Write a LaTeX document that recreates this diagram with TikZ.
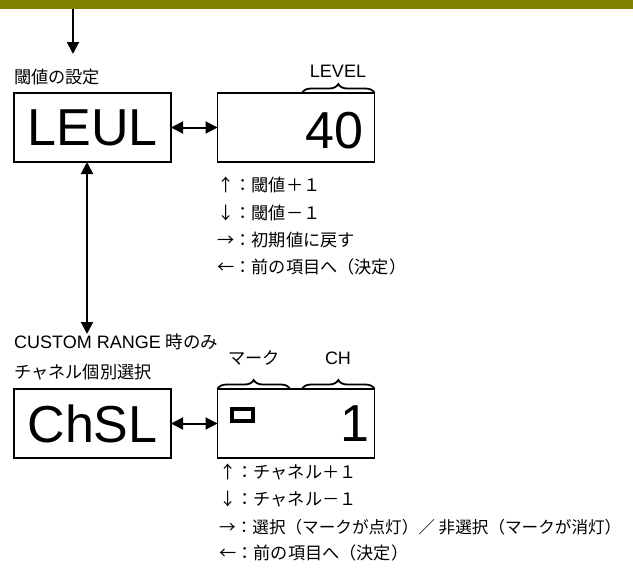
\documentclass[tikz,border=0pt]{standalone}
\usepackage{fontspec}
\setmainfont{Liberation Sans}
\newfontfamily\jp{Noto Sans CJK JP}
\usetikzlibrary{arrows.meta,decorations.pathreplacing}
\definecolor{barolive}{RGB}{128,128,0}
\tikzset{
  dispbox/.style={draw, line width=1.8pt, minimum width=157pt, minimum height=69pt, inner sep=0pt, outer sep=0pt},
  segtxt/.style={font=\fontsize{52}{52}\selectfont, inner sep=0pt},
  jptxt/.style={font=\jp\fontsize{17.2}{17.2}\selectfont, inner sep=0pt, anchor=west},
  lattxt/.style={font=\fontsize{18}{18}\selectfont, inner sep=0pt, anchor=base},
  conn/.style={line width=2pt, -{Triangle[length=12pt,width=12pt]}},
  dconn/.style={line width=2pt, {Triangle[length=12pt,width=12pt]}-{Triangle[length=12pt,width=12pt]}},
  brc/.style={decorate, decoration={brace, amplitude=9pt}, line width=1.8pt},
}
\begin{document}
\begin{tikzpicture}[x=1pt,y=-1pt]
\useasboundingbox (0,0) rectangle (633,581);
% top bar
\fill[barolive] (0,0) rectangle (633,8.5);
\coordinate (topstart) at (73,8.5);
\coordinate (topend) at (73,54);
\draw[conn] (topstart) -- (topend);

% threshold setting
\node[jptxt] (t1) at (14,77) {閾値の設定};
\node[dispbox, segtxt] (leul) at (92.5,127.5) {LEUL};
\node[dispbox] (lvl) at (296,127.5) {};
\node[segtxt, anchor=base east] (lvlval) at (364,148) {40};
\draw[brc] (302,93) -- (lvl.north east);
\node[lattxt] (lvllbl) at (338,77) {LEVEL};
\draw[dconn] (leul.east) -- (lvl.west);

\node[jptxt] (a1) at (217,185) {↑：閾値＋１};
\node[jptxt] (a2) at (217,213) {↓：閾値－１};
\node[jptxt] (a3) at (217,240) {→：初期値に戻す};
\node[jptxt] (a4) at (217,267) {←：前の項目へ（決定）};

% vertical connector
\coordinate (vend) at (87,334);
\draw[dconn] (leul.south -| vend) -- (vend);

% channel selection
\node[lattxt, anchor=base west] (c1) at (14,348) {CUSTOM RANGE {\jp\fontsize{17.5}{17.5}\selectfont 時のみ}};
\node[jptxt] (c2) at (14,372) {チャネル個別選択};
\node[dispbox, segtxt] (chsl) at (92.5,423.5) {ChSL};
\node[dispbox] (ch) at (296,423.5) {};
\node[draw, line width=4.5pt, minimum width=21pt, minimum height=12pt, inner sep=0pt] (mark) at (242.5,415) {};
\node[segtxt, anchor=base east] (chval) at (370,441) {1};
\draw[brc] (ch.north west) -- (290,389);
\draw[brc] (302,389) -- (ch.north east);
\node[jptxt, anchor=center] (marklbl) at (254,358) {マーク};
\node[lattxt] (chlbl) at (338,364) {CH};
\draw[dconn] (chsl.east) -- (ch.west);

\node[jptxt] (b1) at (219,472) {↑：チャネル＋１};
\node[jptxt] (b2) at (219,499) {↓：チャネル－１};
\node[jptxt, font=\jp\fontsize{16.6}{16.6}\selectfont] (b3) at (219,527) {→：選択（マークが点灯）／ 非選択（マークが消灯）};
\node[jptxt] (b4) at (219,553) {←：前の項目へ（決定）};
\end{tikzpicture}
\end{document}
